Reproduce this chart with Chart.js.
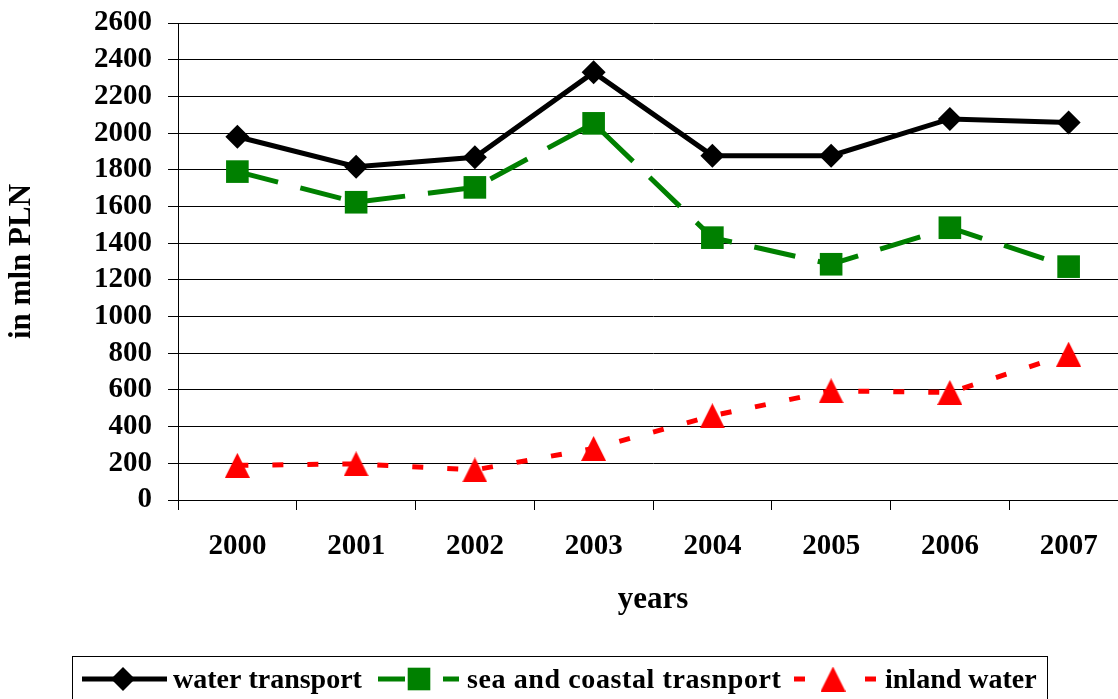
<!DOCTYPE html>
<html>
<head>
<meta charset="utf-8">
<script src="https://cdn.jsdelivr.net/npm/chart.js@4.4.0/dist/chart.umd.min.js"></script>
<style>
  html, body { margin: 0; padding: 0; background: #fff; overflow: hidden; }
  #wrap { width: 1144px; height: 699px; }
  #chart { display: block; width: 1144px; height: 699px; }
</style>
</head>
<body>
<div id="wrap"><canvas id="chart" width="1144" height="699"></canvas></div>
<script>
// data
const years = ['2000', '2001', '2002', '2003', '2004', '2005', '2006', '2007'];
const waterTransport = [1980, 1817, 1868, 2331, 1877, 1877, 2077, 2057];
const seaCoastal = [1790, 1623, 1704, 2053, 1430, 1285, 1484, 1272];
const inlandWater = [189, 197, 164, 281, 459, 595, 586, 795];
const yMin = 0;
const yMax = 2600;
const yStep = 200;

const FONT = '"Liberation Serif", "Times New Roman", serif';

// triangle marker drawn centred on its box (like the original)
function triangleMarker(size, color) {
  const c = document.createElement('canvas');
  c.width = size;
  c.height = size;
  const g = c.getContext('2d');
  g.fillStyle = color;
  g.beginPath();
  g.moveTo(size / 2, 0);
  g.lineTo(size, size);
  g.lineTo(0, size);
  g.closePath();
  g.fill();
  return c;
}
const redTriangle = triangleMarker(25, '#ff0000');

// legend in a box at the bottom, line + marker samples
const boxLegend = {
  id: 'boxLegend',
  afterDraw(chart) {
    const ctx = chart.ctx;
    ctx.save();
    ctx.strokeStyle = '#000';
    ctx.lineWidth = 1;
    ctx.strokeRect(72.5, 656.5, 975, 60);

    const items = [
      { ds: 0, x1: 82, x2: 167, mx: 123, tx: 173, dash: [], ls: '0px' },
      { ds: 1, x1: 378, x2: 459, mx: 419, tx: 467, dash: [27, 38], ls: '0.6px' },
      { ds: 2, x1: 794, x2: 876, mx: 833, tx: 885, dash: [11, 60], ls: '0px' },
    ];
    const y = 679;
    items.forEach((it) => {
      const ds = chart.data.datasets[it.ds];
      ctx.strokeStyle = ds.borderColor;
      ctx.lineWidth = ds.borderWidth;
      ctx.setLineDash(it.dash);
      ctx.beginPath();
      ctx.moveTo(it.x1, y);
      ctx.lineTo(it.x2, y);
      ctx.stroke();
      ctx.setLineDash([]);

      ctx.fillStyle = ds.pointBackgroundColor;
      Chart.helpers.drawPoint(ctx, {
        pointStyle: ds.pointStyle,
        radius: ds.pointRadius,
        borderWidth: 0,
        rotation: 0,
      }, it.mx, y);

      ctx.fillStyle = '#000';
      ctx.font = 'bold 28px ' + FONT;
      ctx.letterSpacing = it.ls;
      ctx.textBaseline = 'alphabetic';
      ctx.textAlign = 'left';
      ctx.fillText(ds.label, it.tx, 688);
    });
    ctx.restore();
  },
};

const ctx = document.getElementById('chart').getContext('2d');
new Chart(ctx, {
  type: 'line',
  data: {
    labels: years,
    datasets: [
      {
        label: 'water transport',
        data: waterTransport,
        borderColor: '#000000',
        borderWidth: 5,
        pointStyle: 'rectRot',
        pointRadius: 12,
        pointBackgroundColor: '#000000',
        pointBorderWidth: 0,
        tension: 0,
      },
      {
        label: 'sea and coastal trasnport',
        data: seaCoastal,
        borderColor: '#008000',
        borderWidth: 5,
        borderDash: [42, 23],
        pointStyle: 'rect',
        pointRadius: 16,
        pointBackgroundColor: '#008000',
        pointBorderWidth: 0,
        tension: 0,
      },
      {
        label: 'inland water',
        data: inlandWater,
        borderColor: '#ff0000',
        borderWidth: 5,
        borderDash: [11, 24],
        pointStyle: redTriangle,
        pointRadius: 13,
        pointBackgroundColor: '#ff0000',
        pointBorderWidth: 0,
        tension: 0,
      },
    ],
  },
  options: {
    responsive: false,
    animation: false,
    layout: {
      padding: { top: 23, left: 0, right: 1, bottom: 79 },
    },
    plugins: {
      legend: { display: false },
      tooltip: { enabled: false },
    },
    scales: {
      x: {
        offset: true,
        grid: {
          offset: true,
          drawOnChartArea: false,
          drawTicks: true,
          tickLength: 10,
          color: '#000',
        },
        border: { color: '#000', width: 1 },
        ticks: {
          color: '#000',
          padding: 19,
          font: { family: FONT, size: 29, weight: 'bold' },
          maxRotation: 0,
        },
        title: {
          display: true,
          text: 'years',
          color: '#000',
          font: { family: FONT, size: 31, weight: 'bold', lineHeight: 1.2 },
          padding: { top: 0, bottom: 1 },
        },
        afterFit(scale) {
          scale.height = 120;
          scale.paddingLeft = 0;
          scale.paddingRight = 0;
        },
      },
      y: {
        min: yMin,
        max: yMax,
        grid: {
          color: '#000',
          lineWidth: 1,
          drawTicks: true,
          tickLength: 10,
        },
        border: { color: '#000', width: 1 },
        ticks: {
          stepSize: yStep,
          autoSkip: false,
          color: '#000',
          padding: 16,
          font: { family: FONT, size: 29, weight: 'bold' },
          callback: (v) => String(v),
        },
        title: {
          display: true,
          text: 'in mln PLN',
          color: '#000',
          font: { family: FONT, size: 31, weight: 'bold', lineHeight: 1.2 },
          padding: { top: 3, bottom: 0 },
        },
        afterFit(scale) {
          scale.width = 178;
          scale.paddingTop = 0;
          scale.paddingBottom = 0;
        },
      },
    },
  },
  plugins: [boxLegend],
});
</script>
</body>
</html>
